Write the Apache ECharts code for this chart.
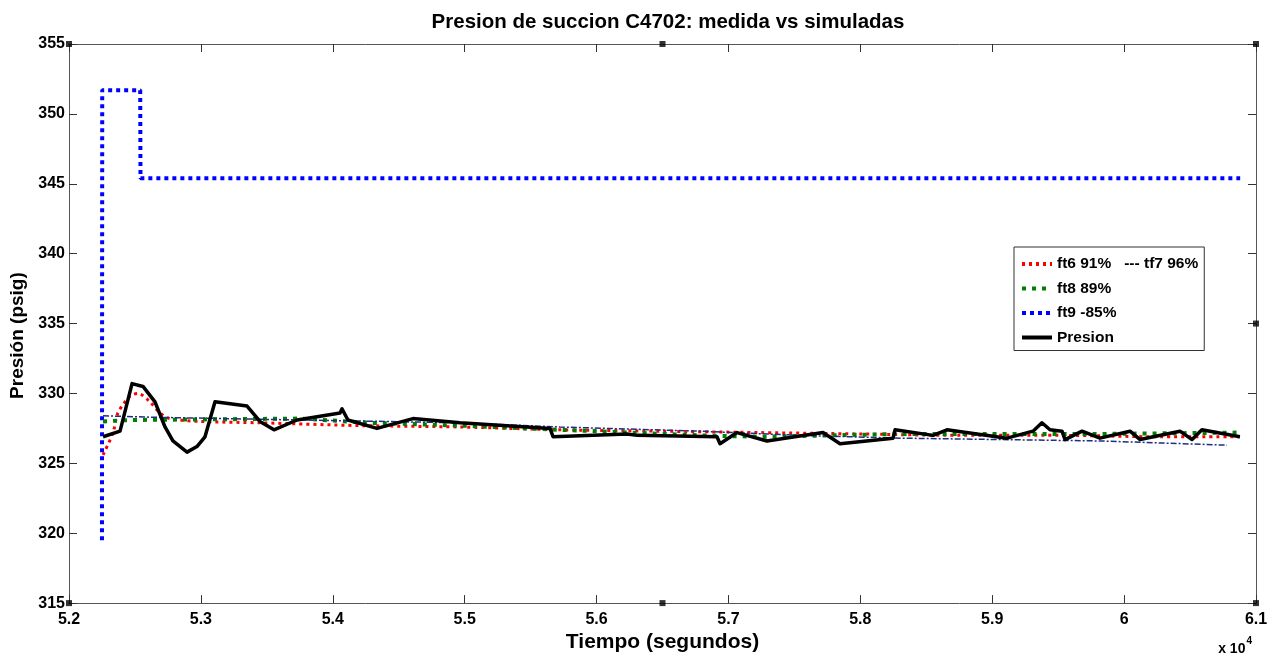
<!DOCTYPE html>
<html>
<head>
<meta charset="utf-8">
<title>Presion de succion C4702</title>
<script src="https://cdn.jsdelivr.net/npm/echarts@6/dist/echarts.min.js"></script>
<style>
  html, body { margin: 0; padding: 0; background: #fff; }
  #chart { width: 1280px; height: 658px; }
</style>
</head>
<body>
<div id="chart"></div>
<script>
// Time axis in seconds, pressure in psig
const presionT = [52258, 52387, 52478, 52561, 52652, 52728, 52788, 52895, 52970, 53031, 53107, 53350, 53448, 53554, 53729, 54055, 54070, 54115, 54335, 54608, 54965, 55647, 55670, 56231, 56307, 56913, 56936, 57065, 57292, 57717, 57846, 58248, 58263, 58551, 58657, 59112, 59309, 59377, 59438, 59529, 59552, 59681, 59817, 60045, 60121, 60424, 60515, 60590, 60878];
const presionV = [326.9, 327.3, 330.7, 330.5, 329.4, 327.6, 326.6, 325.8, 326.2, 326.9, 329.4, 329.1, 328.0, 327.4, 328.1, 328.6, 328.9, 328.1, 327.5, 328.2, 327.9, 327.5, 326.9, 327.1, 327.0, 326.9, 326.4, 327.2, 326.6, 327.2, 326.4, 326.8, 327.4, 327.0, 327.4, 326.8, 327.3, 327.9, 327.4, 327.3, 326.7, 327.3, 326.8, 327.3, 326.7, 327.3, 326.7, 327.4, 326.9];

const ft6T = [52258, 52334, 52371, 52462, 52523, 52614, 52690, 52766, 52993, 53448, 54206, 54965, 55723, 56481, 57239, 57997, 58756, 59514, 60272, 60878];
const ft6V = [325.6, 327.2, 328.6, 329.8, 330.0, 329.4, 328.6, 328.2, 328.0, 327.9, 327.7, 327.6, 327.4, 327.3, 327.2, 327.1, 327.0, 327.0, 326.9, 326.9];

const tf7T = [52258, 52614, 53751, 54965, 55723, 56784, 57542, 58301, 59059, 59817, 60780];
const tf7V = [328.4, 328.3, 328.1, 327.9, 327.6, 327.3, 327.0, 326.8, 326.7, 326.6, 326.3];

const ft8T = [52258, 52462, 53751, 54282, 54965, 55723, 56784, 57239, 57770, 58301, 59059, 59817, 60878];
const ft8V = [328.0, 328.1, 328.2, 327.9, 327.7, 327.4, 327.0, 326.9, 327.0, 327.1, 327.1, 327.1, 327.2];

const ft9T = [52250, 52252, 52540, 52542, 60880];
const ft9V = [319.5, 351.7, 351.7, 345.4, 345.4];

// Axis ranges and tick spacing
const xMin = 52000, xMax = 61000, xStep = 1000;
const yMin = 315, yMax = 355, yStep = 5;

// Small square handles on the frame
const handleT = [52000, 56500, 61000, 61000, 52000, 56500, 61000];
const handleV = [355, 355, 355, 335, 315, 315, 315];

const zip = (t, v) => t.map((x, i) => [x, v[i]]);

const FONT = '"Liberation Sans", Arial, sans-serif';
const tickStyle = { show: true, inside: true, length: 8, lineStyle: { color: '#333', width: 1 } };
const lineColor = '#555';

const chart = echarts.init(document.getElementById('chart'));
chart.setOption({
  backgroundColor: '#fff',
  animation: false,
  title: {
    text: 'Presion de succion C4702: medida vs simuladas',
    left: 663, top: 7, textAlign: 'center',
    textStyle: { fontFamily: FONT, fontSize: 20.5, fontWeight: 'bold', color: '#000' }
  },
  grid: { left: 69, right: 24, top: 44, bottom: 54, containLabel: false },
  legend: {
    orient: 'vertical',
    left: 1014, top: 247,
    padding: [9, 6, 5, 6],
    itemGap: 8.5,
    itemWidth: 30, itemHeight: 17,
    backgroundColor: '#fff',
    borderColor: '#333', borderWidth: 1, borderRadius: 0,
    itemStyle: { opacity: 0 },
    lineStyle: { width: 4 },
    textStyle: { fontFamily: FONT, fontSize: 15.5, fontWeight: 'bold', color: '#000' },
    formatter: name => name === 'ft6 91%' ? name + '   --- tf7 96%' : name,
    data: ['ft6 91%', 'ft8 89%', 'ft9 -85%', 'Presion']
  },
  xAxis: [{
    type: 'value', min: xMin, max: xMax, interval: xStep,
    name: 'Tiempo (segundos)', nameLocation: 'middle', nameGap: 27,
    nameTextStyle: { fontFamily: FONT, fontSize: 21, fontWeight: 'bold', color: '#000' },
    axisLine: { show: true, onZero: false, lineStyle: { color: lineColor, width: 1 } },
    axisTick: tickStyle,
    splitLine: { show: false },
    axisLabel: {
      fontFamily: FONT, fontSize: 16, fontWeight: 'bold', color: '#000', margin: 8,
      formatter: v => String(+(v / 10000).toFixed(1))
    }
  }, {
    type: 'value', position: 'top', min: xMin, max: xMax, interval: xStep,
    axisLine: { show: true, onZero: false, lineStyle: { color: lineColor, width: 1 } },
    axisTick: tickStyle, axisLabel: { show: false }, splitLine: { show: false }
  }],
  yAxis: [{
    type: 'value', min: yMin, max: yMax, interval: yStep,
    name: 'Presión (psig)', nameLocation: 'middle', nameGap: 40,
    nameTextStyle: { fontFamily: FONT, fontSize: 19, fontWeight: 'bold', color: '#000', padding: [0, 24, 0, 0] },
    axisLine: { show: true, onZero: false, lineStyle: { color: lineColor, width: 1 } },
    axisTick: tickStyle,
    splitLine: { show: false },
    axisLabel: { fontFamily: FONT, fontSize: 16, fontWeight: 'bold', color: '#000', margin: 4 }
  }, {
    type: 'value', position: 'right', min: yMin, max: yMax, interval: yStep,
    axisLine: { show: true, onZero: false, lineStyle: { color: lineColor, width: 1 } },
    axisTick: tickStyle, axisLabel: { show: false }, splitLine: { show: false }
  }],
  graphic: [{
    type: 'text', right: 28, bottom: 2,
    style: {
      text: '{b|x 10}{s|4}',
      rich: {
        b: { fontFamily: FONT, fontSize: 14, fontWeight: 'bold', fill: '#000', verticalAlign: 'bottom' },
        s: { fontFamily: FONT, fontSize: 10, fontWeight: 'bold', fill: '#000', verticalAlign: 'top', padding: [0, 0, 10, 1] }
      }
    }
  }],
  series: [{
    name: 'ft9 -85%', type: 'line', symbol: 'none', silent: true,
    data: zip(ft9T, ft9V),
    lineStyle: { color: '#0000ff', width: 4, type: [4, 4] },
    itemStyle: { color: '#0000ff' }
  }, {
    name: 'ft6 91%', type: 'line', symbol: 'none', smooth: 0.3, silent: true,
    data: zip(ft6T, ft6V),
    lineStyle: { color: '#ff0000', width: 3, type: [3, 4] },
    itemStyle: { color: '#ff0000' }
  }, {
    name: 'ft8 89%', type: 'line', symbol: 'none', silent: true,
    data: zip(ft8T, ft8V),
    lineStyle: { color: '#007f00', width: 4, type: [4, 6] },
    itemStyle: { color: '#007f00' }
  }, {
    name: 'tf7 96%', type: 'line', symbol: 'none', silent: true,
    data: zip(tf7T, tf7V),
    lineStyle: { color: '#1c2f80', width: 1.5, type: [6, 2, 2, 2] },
    itemStyle: { color: '#1c2f80' }
  }, {
    name: 'Presion', type: 'line', symbol: 'none', silent: true,
    data: zip(presionT, presionV),
    lineStyle: { color: '#000', width: 3.5, join: 'round' },
    itemStyle: { color: '#000' }
  }, {
    name: 'handles', type: 'scatter', silent: true, symbol: 'rect', symbolSize: 6,
    data: zip(handleT, handleV),
    itemStyle: { color: '#000' }, z: 10
  }]
});
</script>
</body>
</html>
